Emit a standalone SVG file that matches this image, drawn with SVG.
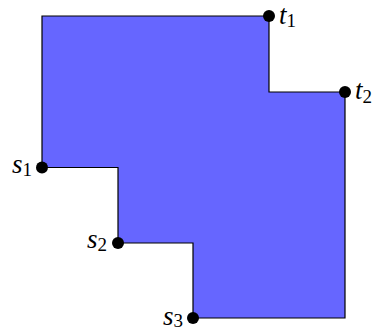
<svg xmlns="http://www.w3.org/2000/svg" width="378" height="334" viewBox="0 0 378 334">
<style>
.region{fill:#6666ff;stroke:#000;stroke-width:1.2;stroke-linejoin:miter}
.dot{fill:#000}
.lbl{font-family:"Liberation Serif","Times New Roman",serif;font-size:27px;font-style:italic;fill:#000}
.sub{font-family:"Liberation Serif","Times New Roman",serif;font-style:normal;font-size:19px}
</style>
<g id="region">
<polygon class="region" points="42,16 269,16 269,92 345,92 345,318 193,318 193,243 118,243 118,167.5 42,167.5"/>
</g>
<g id="s1"><circle class="dot" cx="42" cy="167.5" r="6"/><text class="lbl" x="32" y="173" text-anchor="end">s<tspan class="sub" dy="3">1</tspan></text></g>
<g id="s2"><circle class="dot" cx="118" cy="243" r="6"/><text class="lbl" x="107" y="248" text-anchor="end">s<tspan class="sub" dy="3">2</tspan></text></g>
<g id="s3"><circle class="dot" cx="193" cy="318" r="6"/><text class="lbl" x="183" y="325" text-anchor="end">s<tspan class="sub" dy="2">3</tspan></text></g>
<g id="t1"><circle class="dot" cx="269" cy="16" r="6"/><text class="lbl" x="279" y="24">t<tspan class="sub" dy="3">1</tspan></text></g>
<g id="t2"><circle class="dot" cx="345" cy="92" r="6"/><text class="lbl" x="355" y="99">t<tspan class="sub" dy="4">2</tspan></text></g>
</svg>
